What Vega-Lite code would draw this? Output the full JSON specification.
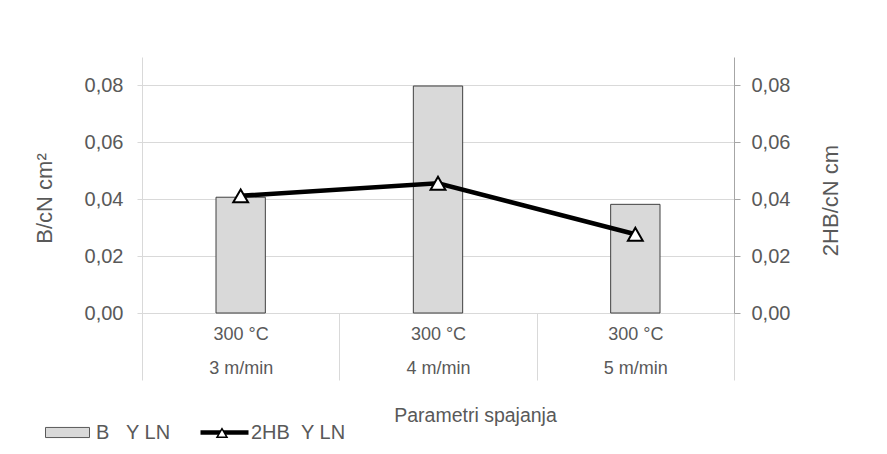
{
  "$schema": "https://vega.github.io/schema/vega-lite/v6.json",
  "width": 592,
  "height": 256,
  "autosize": {"type": "none"},
  "padding": {"top": 57, "left": 142, "right": 153, "bottom": 141},
  "background": "white",
  "config": {
    "font": "Liberation Sans",
    "view": {"stroke": null},
    "axis": {"labelColor": "#595959", "titleColor": "#595959", "labelFont": "Liberation Sans", "titleFont": "Liberation Sans", "titleFontWeight": "normal"},
    "legend": {"labelColor": "#595959", "labelFont": "Liberation Sans", "labelFontSize": 20, "padding": 0}
  },
  "data": {
    "values": [
      {"cat": "300 °C|3 m/min", "b": 0.0407, "hb": 0.0412, "s1": "B\u00a0\u00a0\u00a0Y LN", "s2": "2HB\u00a0\u00a0Y LN"},
      {"cat": "300 °C|4 m/min", "b": 0.0798, "hb": 0.0456, "s1": "B\u00a0\u00a0\u00a0Y LN", "s2": "2HB\u00a0\u00a0Y LN"},
      {"cat": "300 °C|5 m/min", "b": 0.0382, "hb": 0.0277, "s1": "B\u00a0\u00a0\u00a0Y LN", "s2": "2HB\u00a0\u00a0Y LN"}
    ]
  },
  "encoding": {
    "x": {
      "field": "cat", "type": "nominal", "sort": null,
      "scale": {"paddingInner": 0, "paddingOuter": 0},
      "axis": {
        "title": "Parametri spajanja", "titleFontSize": 19.5, "titleX": 333, "titleY": 102, "titleBaseline": "middle",
        "labelExpr": "split(datum.label, '|')", "labelAngle": 0, "labelFontSize": 18, "labelLineHeight": 34,
        "labelPadding": -55, "tickBand": "extent", "tickSize": 67, "tickColor": "#d9d9d9", "domainColor": "#d9d9d9", "grid": false
      }
    }
  },
  "layer": [
    {
      "mark": {"type": "bar", "stroke": "#404040", "strokeWidth": 1, "width": {"band": 0.25}},
      "encoding": {
        "y": {
          "field": "b", "type": "quantitative", "scale": {"domain": [0, 0.09], "nice": false},
          "axis": {
            "title": "B/cN cm²", "titleFontSize": 22, "titleAngle": -90, "titleX": -98, "titleY": 141, "titleBaseline": "middle", "titleAlign": "center",
            "values": [0, 0.02, 0.04, 0.06, 0.08], "labelExpr": "replace(format(datum.value, '.2f'), '.', ',')", "labelFontSize": 20,
            "tickSize": 5, "tickColor": "#d9d9d9", "labelPadding": 14, "domainColor": "#d9d9d9", "gridColor": "#d9d9d9", "grid": true
          }
        },
        "fill": {
          "field": "s1", "type": "nominal", "scale": {"range": ["#d9d9d9"]},
          "legend": {"title": null, "orient": "none", "legendX": -97, "legendY": 353, "symbolType": "M-1,-0.23H1V0.23H-1Z", "symbolSize": 1936, "symbolStrokeColor": "#595959", "symbolStrokeWidth": 1, "labelOffset": 6}
        }
      }
    },
    {
      "encoding": {
        "y": {
          "field": "hb", "type": "quantitative", "scale": {"domain": [0, 0.09], "nice": false},
          "axis": {
            "orient": "right", "title": "2HB/cN cm", "titleFontSize": 22, "titleAngle": -90, "titleX": 96, "titleY": 143, "titleBaseline": "middle", "titleAlign": "center",
            "values": [0, 0.02, 0.04, 0.06, 0.08], "labelExpr": "replace(format(datum.value, '.2f'), '.', ',')", "labelFontSize": 20,
            "tickSize": 6, "tickColor": "#a6a6a6", "labelPadding": 11, "domainColor": "#a6a6a6", "grid": false
          }
        }
      },
      "layer": [
        {
          "mark": {"type": "line", "strokeWidth": 4.5},
          "encoding": {
            "stroke": {
              "field": "s2", "type": "nominal", "scale": {"range": ["black"]},
              "legend": {"title": null, "orient": "none", "legendX": 56, "legendY": 349, "symbolType": "M-1,0H1", "symbolSize": 2304, "symbolStrokeWidth": 4.5, "labelOffset": 0}
            }
          }
        },
        {
          "mark": {"type": "point", "filled": true, "fill": "white", "stroke": "black", "strokeWidth": 2, "size": 220, "opacity": 1},
          "encoding": {
            "shape": {
              "field": "s2", "type": "nominal", "scale": {"range": ["triangle-up"]},
              "legend": {"title": null, "orient": "none", "legendX": 70, "legendY": 366, "symbolSize": 100, "labelExpr": "''",
                "encode": {"symbols": {"update": {"fill": {"value": "white"}, "stroke": {"value": "black"}, "strokeWidth": {"value": 1.5}, "opacity": {"value": 1}}}}}
            }
          }
        }
      ]
    }
  ],
  "resolve": {"scale": {"y": "independent"}}
}
